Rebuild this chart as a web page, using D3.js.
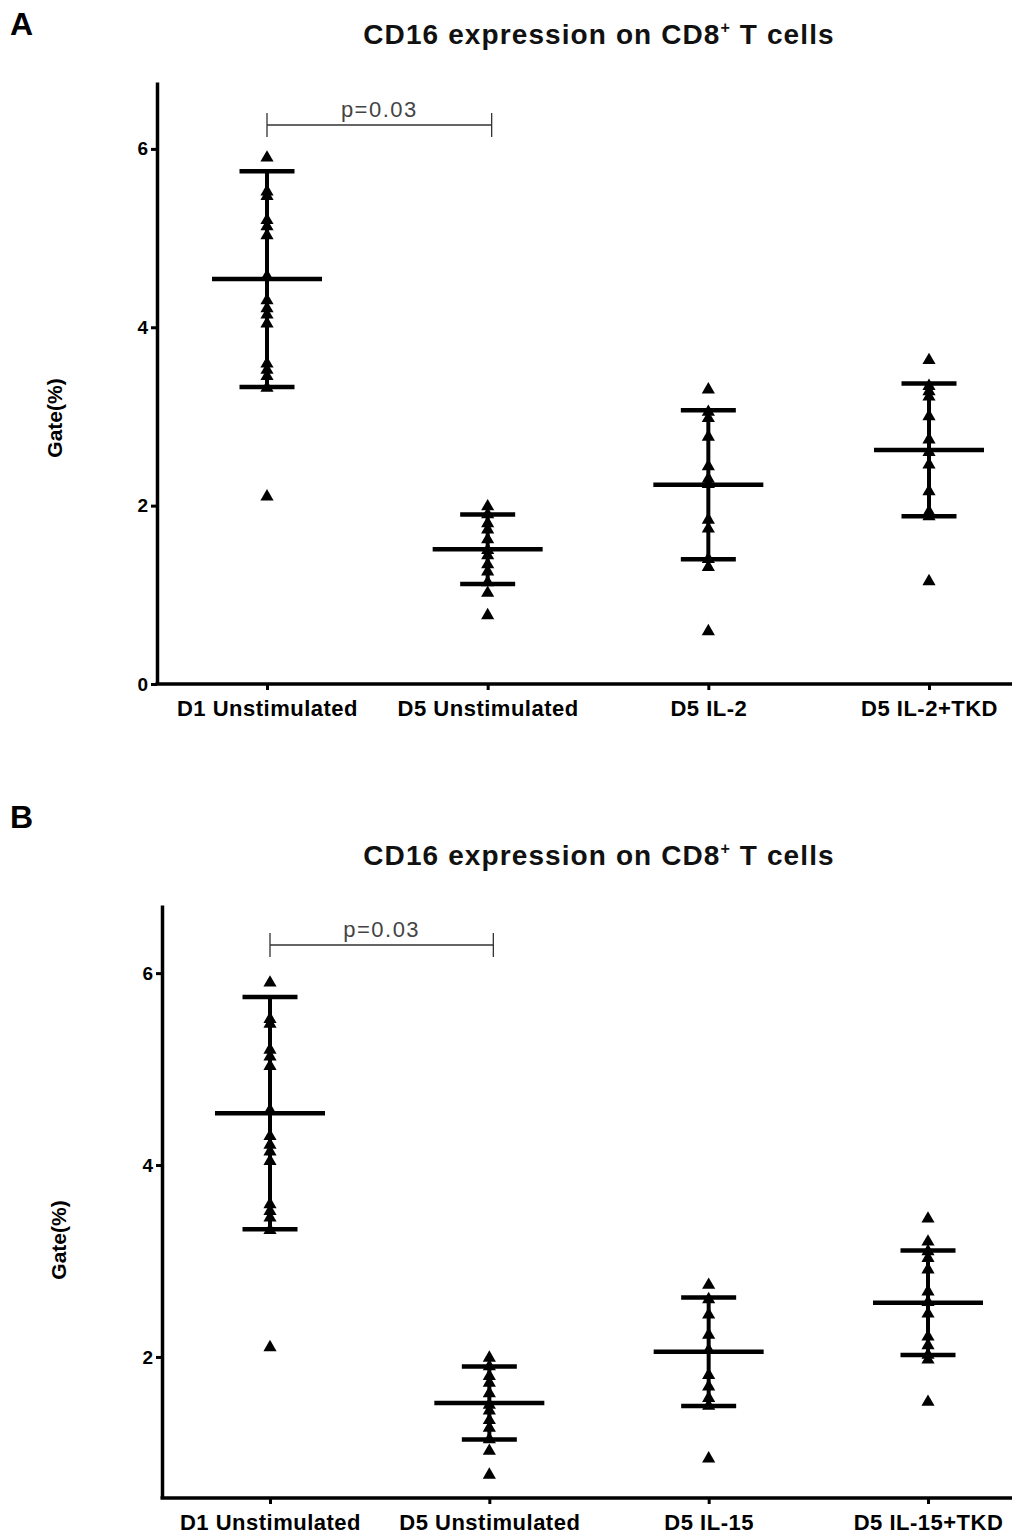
<!DOCTYPE html>
<html>
<head>
<meta charset="utf-8">
<script src="https://cdn.jsdelivr.net/npm/d3@7"></script>
<style>
  body { margin: 0; background: #fff; }
  svg { display: block; }
  text { font-family: "Liberation Sans", Arial, Helvetica, sans-serif; }
</style>
</head>
<body>
<svg id="chart" width="1032" height="1536"></svg>
<script>
// ---------------- DATA ----------------
const categoriesA = ["D1 Unstimulated", "D5 Unstimulated", "D5 IL-2", "D5 IL-2+TKD"];
const categoriesB = ["D1 Unstimulated", "D5 Unstimulated", "D5 IL-15", "D5 IL-15+TKD"];

const d1Unstimulated = [5.90, 5.52, 5.47, 5.20, 5.13, 5.03, 4.57, 4.30, 4.21, 4.14, 4.04, 3.59, 3.52, 3.45, 3.32, 2.10];
const d5Unstimulated = [1.99, 1.90, 1.80, 1.73, 1.62, 1.50, 1.44, 1.34, 1.26, 1.14, 1.02, 0.77];
const d5IL2          = [3.30, 3.05, 2.98, 2.77, 2.44, 2.30, 2.24, 1.84, 1.74, 1.40, 1.31, 0.59];
const d5IL2TKD       = [3.63, 3.34, 3.28, 3.22, 3.00, 2.74, 2.60, 2.46, 2.16, 1.93, 1.88, 1.15];
const d5IL15         = [2.75, 2.60, 2.44, 2.23, 2.07, 1.81, 1.69, 1.57, 1.49, 0.94];
const d5IL15TKD      = [3.44, 3.20, 3.10, 3.03, 2.91, 2.68, 2.57, 2.45, 2.21, 2.12, 2.02, 1.97, 1.53];

const meansA = [4.54, 1.51, 2.235, 2.625];
const sdsA   = [1.21, 0.39, 0.835, 0.745];
const meansB = [4.54, 1.52, 2.055, 2.565];
const sdsB   = [1.21, 0.38, 0.565, 0.545];

const yTicksA = [0, 2, 4, 6];
const yTicksB = [2, 4, 6];
const yDomainA = [0, 6.75];
const yDomainB = [0.53, 6.71];

const panelLabels = ["A", "B"];
const chartTitle = "CD16 expression on CD8";
const yAxisTitle = "Gate(%)";
const pValueText = "p=0.03";

// ---------------- DRAW ----------------
const svg = d3.select("#chart");

function drawPanel(cfg) {
  const g = svg.append("g");
  const y = d3.scaleLinear().domain(cfg.yDomain).range([cfg.bottom, cfg.top]);
  const x = d3.scalePoint().domain(cfg.categories).range([cfg.firstX, cfg.lastX]);

  // panel letter
  g.append("text").attr("x", 10).attr("y", cfg.letterY)
    .attr("font-size", 32).attr("font-weight", "bold").text(cfg.letter);

  // title
  const t = g.append("text").attr("x", 599).attr("y", cfg.titleY)
    .attr("text-anchor", "middle").attr("font-size", 28).attr("font-weight", "bold")
    .attr("letter-spacing", 1.1).attr("fill", "#111");
  t.append("tspan").text(chartTitle);
  t.append("tspan").attr("font-size", 16).attr("dy", -11).text("+");
  t.append("tspan").attr("dy", 11).text(" T cells");

  // y axis
  const yAxis = g.append("g").attr("transform", `translate(${cfg.left},0)`)
    .call(d3.axisLeft(y).tickValues(cfg.yTicks).tickFormat(d3.format("d"))
      .tickSize(6).tickPadding(3).tickSizeOuter(0));
  yAxis.select(".domain").attr("stroke-width", 3.5).attr("stroke", "#000");
  yAxis.selectAll(".tick line").attr("stroke-width", 3).attr("stroke", "#000");
  yAxis.selectAll(".tick text").attr("font-size", 19).attr("font-weight", "bold")
    .attr("font-family", "Liberation Sans, Arial, sans-serif").attr("fill", "#000");

  // x axis
  const xAxis = g.append("g").attr("transform", `translate(0,${cfg.bottom})`)
    .call(d3.axisBottom(x).tickSize(6).tickPadding(10).tickSizeOuter(0));
  xAxis.select(".domain").remove();
  xAxis.append("line").attr("x1", cfg.left - 1.5).attr("x2", 1012)
    .attr("stroke", "#000").attr("stroke-width", 3.5);
  xAxis.selectAll(".tick line").attr("stroke-width", 3).attr("stroke", "#000");
  xAxis.selectAll(".tick text").attr("font-size", 22).attr("font-weight", "bold")
    .attr("letter-spacing", 0.5)
    .attr("font-family", "Liberation Sans, Arial, sans-serif").attr("fill", "#000");

  // y title
  g.append("text")
    .attr("transform", `translate(${cfg.yTitleX},${cfg.yTitleY}) rotate(-90)`)
    .attr("text-anchor", "middle").attr("font-size", 21).attr("font-weight", "bold")
    .text(yAxisTitle);

  // error bars (mean ± SD)
  cfg.categories.forEach((c, i) => {
    const cx = x(c);
    const m = cfg.means[i], s = cfg.sds[i];
    g.append("line").attr("x1", cx).attr("x2", cx)
      .attr("y1", y(m + s)).attr("y2", y(m - s))
      .attr("stroke", "#000").attr("stroke-width", 4);
    [m + s, m - s].forEach(v => {
      g.append("line").attr("x1", cx - 27.5).attr("x2", cx + 27.5)
        .attr("y1", y(v)).attr("y2", y(v))
        .attr("stroke", "#000").attr("stroke-width", 4.5);
    });
    g.append("line").attr("x1", cx - 55).attr("x2", cx + 55)
      .attr("y1", y(m)).attr("y2", y(m))
      .attr("stroke", "#000").attr("stroke-width", 4.5);
  });

  // points
  const tri = d3.symbol().type(d3.symbolTriangle).size(75);
  cfg.series.forEach((vals, i) => {
    const cx = x(cfg.categories[i]);
    g.selectAll(null).data(vals).enter().append("path")
      .attr("d", tri)
      .attr("transform", d => `translate(${cx},${y(d)})`)
      .attr("fill", "#000");
  });

  // significance bracket
  const x1 = x(cfg.categories[0]), x2 = x(cfg.categories[1]) + 4;
  const by = cfg.bracketY;
  g.append("path")
    .attr("d", `M${x1},${by - 12}V${by + 12}M${x1},${by}H${x2}M${x2},${by - 12}V${by + 12}`)
    .attr("fill", "none").attr("stroke", "#333").attr("stroke-width", 1.3);
  g.append("text").attr("x", (x1 + x2) / 2).attr("y", by - 8)
    .attr("text-anchor", "middle").attr("font-size", 22).attr("fill", "#444")
    .attr("letter-spacing", 1.5)
    .text(pValueText);
}

drawPanel({
  letter: panelLabels[0], letterY: 35, titleY: 44,
  categories: categoriesA, series: [d1Unstimulated, d5Unstimulated, d5IL2, d5IL2TKD],
  means: meansA, sds: sdsA,
  yDomain: yDomainA, yTicks: yTicksA,
  top: 82, bottom: 684, left: 157, firstX: 267, lastX: 929,
  yTitleX: 62, yTitleY: 418, bracketY: 125
});

drawPanel({
  letter: panelLabels[1], letterY: 828, titleY: 865,
  categories: categoriesB, series: [d1Unstimulated, d5Unstimulated, d5IL15, d5IL15TKD],
  means: meansB, sds: sdsB,
  yDomain: yDomainB, yTicks: yTicksB,
  top: 905, bottom: 1498, left: 162, firstX: 270, lastX: 928,
  yTitleX: 66, yTitleY: 1240, bracketY: 945
});
</script>
</body>
</html>
